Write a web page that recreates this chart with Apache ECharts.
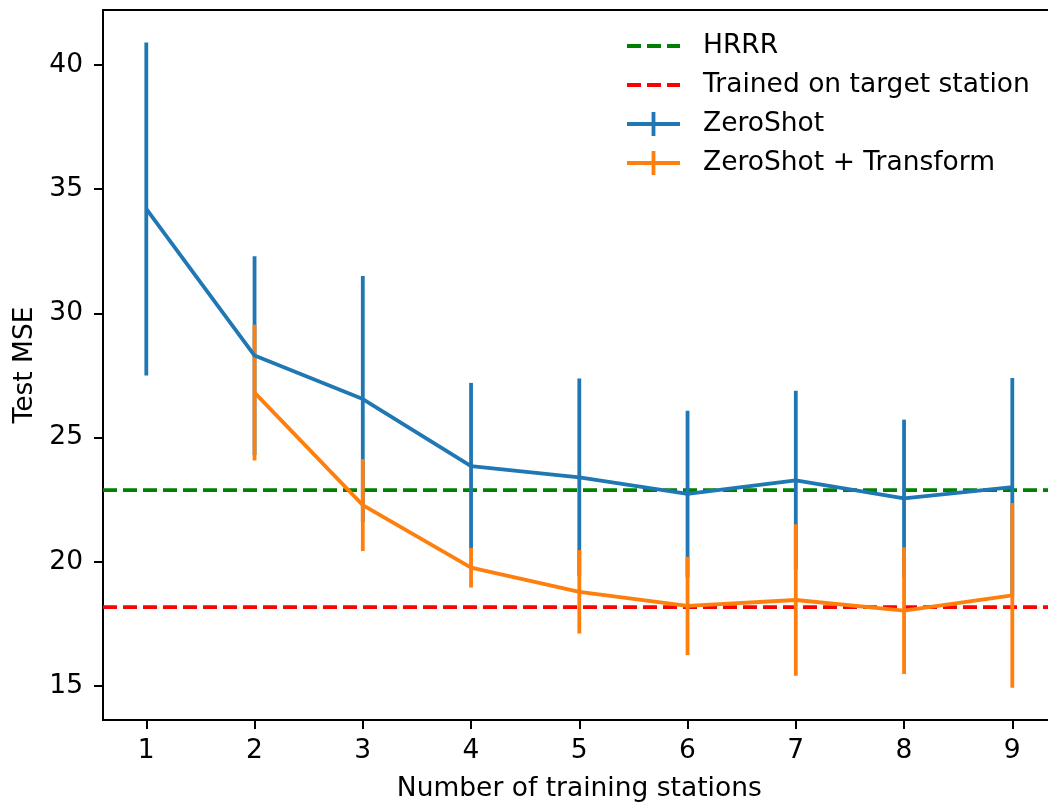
<!DOCTYPE html>
<html>
<head>
<meta charset="utf-8">
<script src="https://cdn.jsdelivr.net/npm/echarts@6/dist/echarts.min.js"></script>
<style>html,body{margin:0;padding:0;background:#fff;}#chart{width:1048px;height:802px;}</style>
</head>
<body>
<div id="chart"></div>
<script>
// ---- data ----
const stations = [1, 2, 3, 4, 5, 6, 7, 8, 9];
const zeroShotMean = [34.2, 28.3, 26.55, 23.85, 23.4, 22.73, 23.28, 22.55, 23.0];
const zeroShotErr  = [6.7, 4.0, 4.95, 3.35, 3.98, 3.35, 3.6, 3.17, 4.4];
const transformStations = [2, 3, 4, 5, 6, 7, 8, 9];
const transformMean = [26.81, 22.28, 19.76, 18.79, 18.22, 18.46, 18.03, 18.65];
const transformErr  = [2.73, 1.85, 0.8, 1.68, 1.98, 3.05, 2.55, 3.72];
const hrrrValue = 22.88;
const targetValue = 18.17;
const xTicks = [1, 2, 3, 4, 5, 6, 7, 8, 9];
const yTicks = [15, 20, 25, 30, 35, 40];

const xMin = 0.6, xMax = 9.4, yMin = 13.63, yMax = 42.21;
const FONT = 'DejaVu Sans';
const FS = 26.5;
const BLUE = '#1f77b4', ORANGE = '#ff7f0e', GREEN = '#008000', RED = '#ff0000';
const LW = 3.8;

const dashIcon = 'path://M0,0L0.01,0L0,0.01Z M0,10.1H14V13.9H0Z M20,10.1H34V13.9H20Z M40,10.1H53V13.9H40Z M53,24L52.99,24L53,23.99Z';
const errIcon = 'path://M0,10.1H53V13.9H0Z M24.6,0H28.4V24H24.6Z';

function errData(xs, m, e) { return xs.map((x, i) => [x, m[i] - e[i], m[i] + e[i]]); }
function errSeries(name, xs, m, e, color) {
  return {
    type: 'custom', name: name, data: errData(xs, m, e),
    encode: { x: 0, y: [1, 2] },
    renderItem: function (params, api) {
      const p1 = api.coord([api.value(0), api.value(1)]);
      const p2 = api.coord([api.value(0), api.value(2)]);
      return { type: 'line', shape: { x1: p1[0], y1: p1[1], x2: p2[0], y2: p2[1] },
               style: { stroke: color, lineWidth: LW } };
    },
    itemStyle: { color: color }, silent: true, z: 3
  };
}

const chart = echarts.init(document.getElementById('chart'), null, { renderer: 'canvas' });
chart.setOption({
  animation: false,
  backgroundColor: '#fff',
  textStyle: { fontFamily: FONT },
  grid: { left: 103, top: 10, width: 952.6, height: 710, show: true, borderColor: '#000', borderWidth: 2,
          backgroundColor: 'transparent', containLabel: false, outerBoundsMode: 'none' },
  legend: {
    orient: 'vertical', left: 622, top: 27.5, itemWidth: 53, itemHeight: 24, itemGap: 12,
    textStyle: { fontFamily: FONT, fontSize: FS, color: '#000', padding: [0, 0, 0, 18] },
    selectedMode: false,
    data: [
      { name: 'HRRR', icon: dashIcon, itemStyle: { color: GREEN } },
      { name: 'Trained on target station', icon: dashIcon, itemStyle: { color: RED } },
      { name: 'ZeroShot', icon: errIcon, itemStyle: { color: BLUE } },
      { name: 'ZeroShot + Transform', icon: errIcon, itemStyle: { color: ORANGE } }
    ]
  },
  xAxis: {
    type: 'value', min: xMin, max: xMax,
    name: 'Number of training stations', nameLocation: 'middle', nameGap: 56,
    nameTextStyle: { fontFamily: FONT, fontSize: FS, color: '#000' },
    axisLine: { show: true, onZero: false, lineStyle: { color: '#000', width: 2 } },
    axisTick: { show: true, length: 9, lineStyle: { color: '#000', width: 2 }, customValues: xTicks },
    axisLabel: { fontFamily: FONT, fontSize: FS, color: '#000', margin: 18, customValues: xTicks },
    splitLine: { show: false }
  },
  yAxis: {
    type: 'value', min: yMin, max: yMax,
    name: 'Test MSE', nameLocation: 'middle', nameGap: 59,
    nameTextStyle: { fontFamily: FONT, fontSize: FS, color: '#000' },
    axisLine: { show: true, onZero: false, lineStyle: { color: '#000', width: 2 } },
    axisTick: { show: true, length: 9, lineStyle: { color: '#000', width: 2 }, customValues: yTicks },
    axisLabel: { fontFamily: FONT, fontSize: FS, color: '#000', margin: 20, customValues: yTicks },
    splitLine: { show: false }
  },
  series: [
    { type: 'line', name: 'HRRR', data: [[xMin, hrrrValue], [xMax, hrrrValue]], symbol: 'none',
      lineStyle: { color: GREEN, width: LW, type: [14, 6] }, itemStyle: { color: GREEN }, z: 2, silent: true },
    { type: 'line', name: 'Trained on target station', data: [[xMin, targetValue], [xMax, targetValue]], symbol: 'none',
      lineStyle: { color: RED, width: LW, type: [14, 6] }, itemStyle: { color: RED }, z: 2, silent: true },
    errSeries('ZeroShot', stations, zeroShotMean, zeroShotErr, BLUE),
    { type: 'line', name: 'ZeroShot', data: stations.map((x, i) => [x, zeroShotMean[i]]), symbol: 'none',
      lineStyle: { color: BLUE, width: LW }, itemStyle: { color: BLUE }, z: 3, silent: true },
    errSeries('ZeroShot + Transform', transformStations, transformMean, transformErr, ORANGE),
    { type: 'line', name: 'ZeroShot + Transform', data: transformStations.map((x, i) => [x, transformMean[i]]), symbol: 'none',
      lineStyle: { color: ORANGE, width: LW }, itemStyle: { color: ORANGE }, z: 3, silent: true }
  ]
});
</script>
</body>
</html>
